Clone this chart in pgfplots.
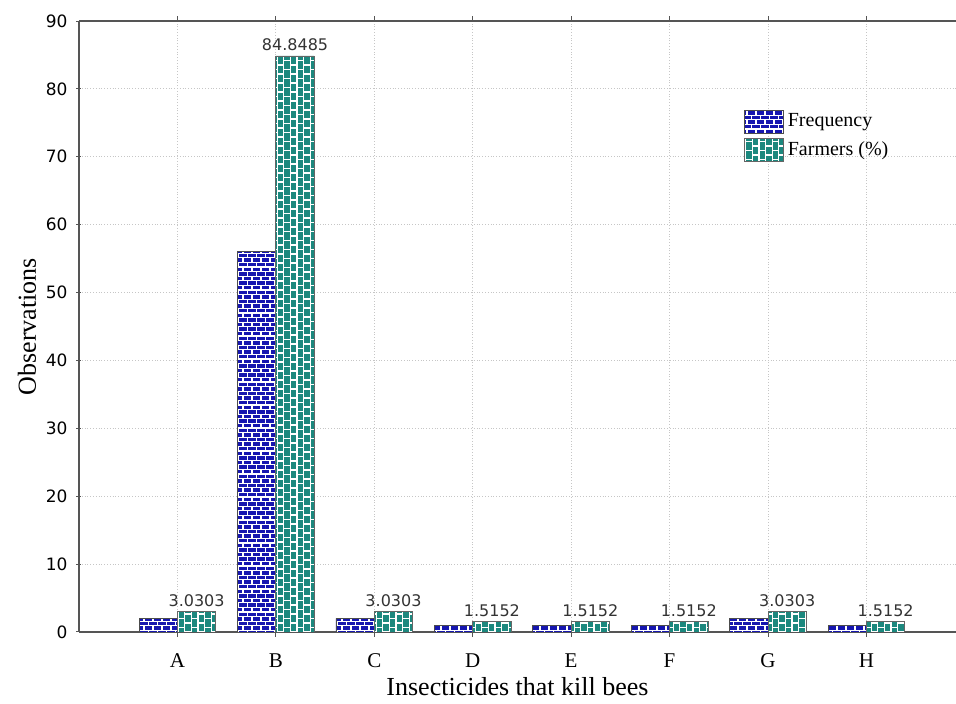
\documentclass[border=0pt]{standalone}
\usepackage{fontspec}
\setmainfont{Liberation Serif}
\newfontfamily\numfont{DejaVu Sans}
\usepackage{pgfplots}
\pgfplotsset{compat=1.18}
\usetikzlibrary{patterns}
\definecolor{blueC}{RGB}{22,22,175}
\definecolor{tealC}{RGB}{28,136,126}
\definecolor{axisC}{RGB}{85,85,85}

\pgfdeclarepatternformonly{hbricks}{\pgfqpoint{-0.5pt}{-0.5pt}}{\pgfqpoint{5pt}{5.1pt}}{\pgfqpoint{4.5pt}{4.6pt}}{
  \pgfsetlinewidth{0.6pt}
  \pgfpathmoveto{\pgfqpoint{0pt}{0pt}}\pgfpathlineto{\pgfqpoint{4.5pt}{0pt}}
  \pgfpathmoveto{\pgfqpoint{0pt}{2.3pt}}\pgfpathlineto{\pgfqpoint{4.5pt}{2.3pt}}
  \pgfpathmoveto{\pgfqpoint{0pt}{0pt}}\pgfpathlineto{\pgfqpoint{0pt}{2.3pt}}
  \pgfpathmoveto{\pgfqpoint{2.25pt}{2.3pt}}\pgfpathlineto{\pgfqpoint{2.25pt}{4.6pt}}
  \pgfusepath{stroke}}

\pgfdeclarepatternformonly{vbricks}{\pgfqpoint{-0.5pt}{-0.5pt}}{\pgfqpoint{7.1pt}{5pt}}{\pgfqpoint{6.6pt}{4.5pt}}{
  \pgfsetlinewidth{0.6pt}
  \pgfpathmoveto{\pgfqpoint{0pt}{0pt}}\pgfpathlineto{\pgfqpoint{0pt}{4.5pt}}
  \pgfpathmoveto{\pgfqpoint{3.3pt}{0pt}}\pgfpathlineto{\pgfqpoint{3.3pt}{4.5pt}}
  \pgfpathmoveto{\pgfqpoint{0pt}{0pt}}\pgfpathlineto{\pgfqpoint{3.3pt}{0pt}}
  \pgfpathmoveto{\pgfqpoint{3.3pt}{2.25pt}}\pgfpathlineto{\pgfqpoint{6.6pt}{2.25pt}}
  \pgfusepath{stroke}}

\pgfplotstableread{
x y
0 2
1 56
2 2
3 1
4 1
5 1
6 2
7 1
}\freqdata

\pgfplotstableread{
x y lab
0 3.0303 3.0303
1 84.8485 84.8485
2 3.0303 3.0303
3 1.5152 1.5152
4 1.5152 1.5152
5 1.5152 1.5152
6 3.0303 3.0303
7 1.5152 1.5152
}\farmdata

\pgfplotsset{bigleg/.style={legend image code/.code={\draw[##1] (0pt,-5.8pt) rectangle (19.5pt,5.8pt);}}}

\begin{document}
\begin{tikzpicture}
\path[use as bounding box] (-39.5pt,-36pt) rectangle (438.5pt,316pt);
\begin{axis}[
  at={(0,0)}, anchor=south west,
  scale only axis,
  width=438.5pt, height=305.5pt,
  xmin=-1, xmax=7.91,
  ymin=0, ymax=90,
  axis x line=box, axis y line=left,
  axis line style={-, draw=axisC, line width=0.6pt},
  xtick={0,...,7},
  xticklabels={A,B,C,D,E,F,G,H},
  ytick={0,10,...,90},
  major tick length=2.5pt,
  tick style={draw=axisC, line width=0.5pt},
  xmajorgrids, ymajorgrids,
  grid style={densely dotted, gray!45, line width=0.5pt},
  xticklabel style={font=\fontsize{10.5}{12}\selectfont, yshift=-5pt},
  yticklabel style={font=\numfont\fontsize{8.5}{10}\selectfont, xshift=-1pt},
  /pgf/number format/assume math mode=true,
  xlabel={Insecticides that kill bees},
  ylabel={Observations},
  label style={font=\fontsize{13}{15}\selectfont},
  xlabel style={yshift=2pt},
  ylabel style={yshift=-2pt},
  legend style={at={(0.751,0.862)}, anchor=north west, draw=none, fill=none,
    font=\fontsize{10}{12}\selectfont, row sep=2pt,
    cells={anchor=west}},
  ybar, bar width=0.39,
]
\addplot[fill=blueC, draw=black!70, line width=0.4pt, bar shift=-0.195,
  postaction={pattern=hbricks, pattern color=white}, bigleg]
  table[x=x, y=y] {\freqdata};
\addlegendentry{Frequency}
\addplot[fill=tealC, draw=black!60, line width=0.4pt, bar shift=0.195,
  postaction={pattern=vbricks, pattern color=white}, bigleg,
  point meta=explicit symbolic,
  nodes near coords={\pgfplotspointmeta},
  every node near coord/.append style={font=\numfont\fontsize{8}{9}\selectfont, text=black!80, yshift=-1pt}]
  table[x=x, y=y, meta=lab] {\farmdata};
\addlegendentry{Farmers (\%)}
\end{axis}
\end{tikzpicture}
\end{document}
